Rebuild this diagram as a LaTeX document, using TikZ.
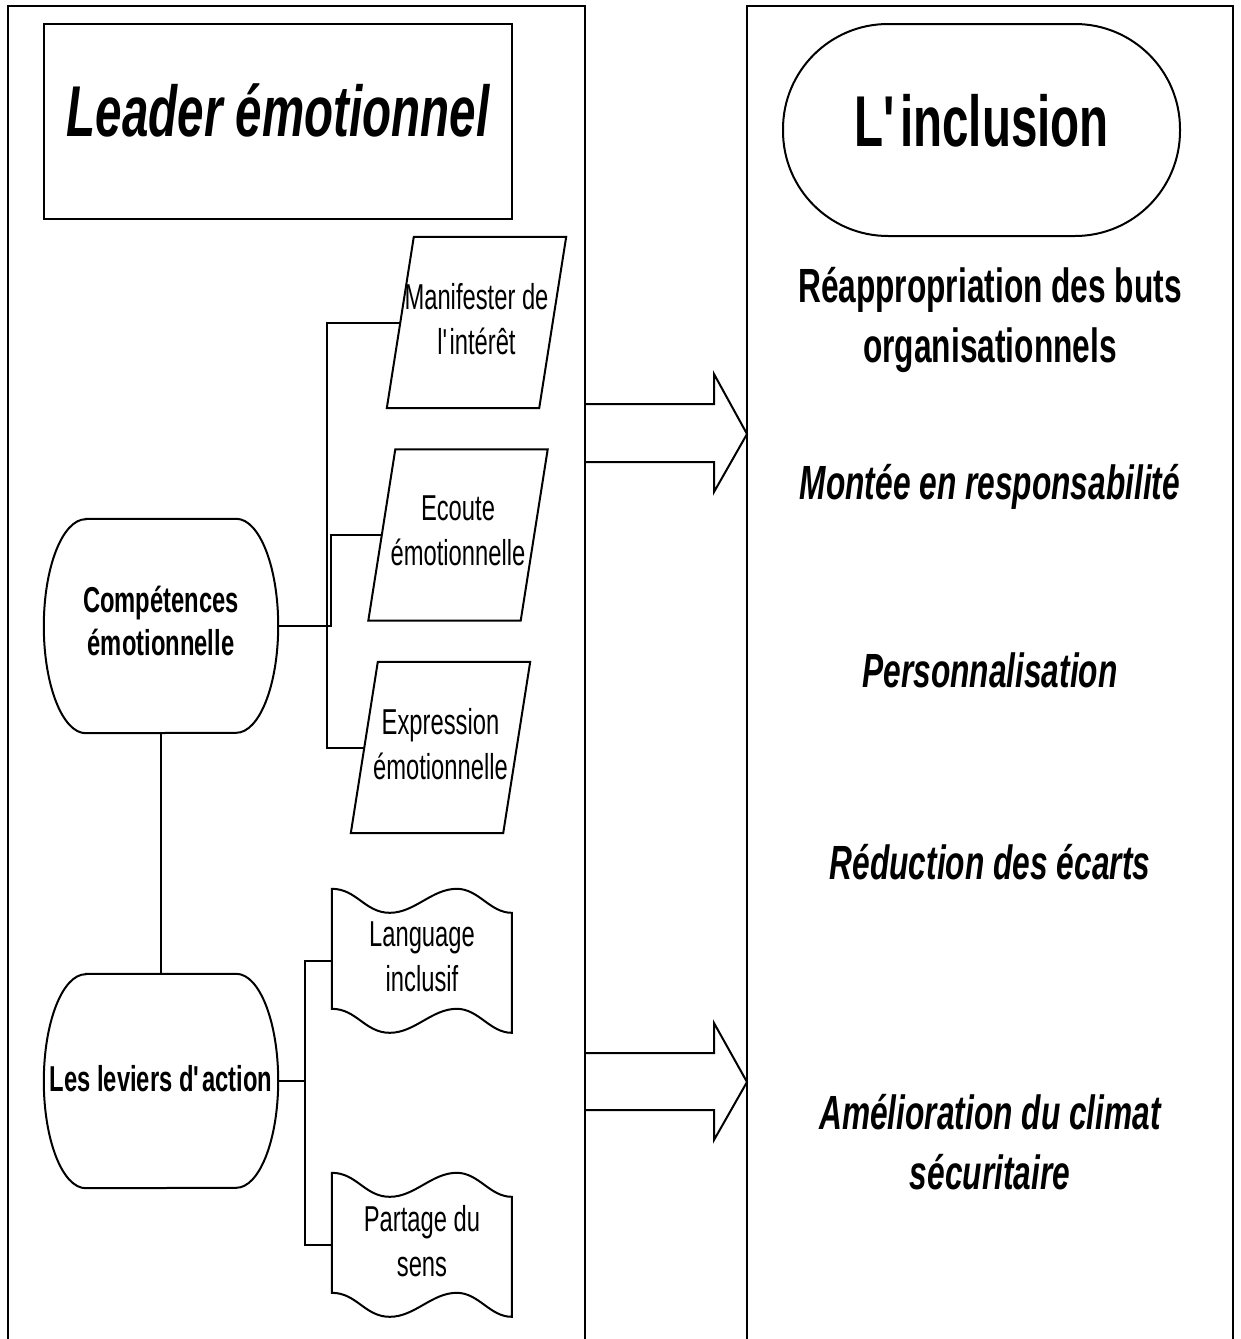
\documentclass[tikz,border=0pt]{standalone}
\usepackage{fontspec}
\setmainfont{Liberation Sans}[FakeStretch=0.66]
\newcommand{\apos}{\textquotesingle}

\begin{document}
\begin{tikzpicture}[
        x=1pt, y=-1pt,
        panel/.style={line width=2.6pt},
        outline/.style={draw, line width=2pt},
        link/.style={line width=2pt},
        para/.style={minimum width=152pt, minimum height=171pt, inner sep=0pt, text depth=8pt,
                     align=center, font=\fontsize{36}{45}\selectfont},
        term/.style={minimum width=234pt, minimum height=214pt, inner sep=0pt, align=center,
                     font=\bfseries\fontsize{36}{43}\selectfont},
        docu/.style={minimum width=180pt, minimum height=144pt, inner sep=0pt, text depth=8pt,
                     align=center, font=\fontsize{36}{45}\selectfont},
        result/.style={align=center, font=\bfseries\fontsize{48}{60}\selectfont},
        resultit/.style={align=center, font=\bfseries\itshape\fontsize{48}{60}\selectfont}]

    \useasboundingbox (0,0) rectangle (1240,1339);

    % --- cadres
    \draw[panel] (8,1350) -- (8,6) -- (585,6) -- (585,1350);
    \draw[panel] (747,1350) -- (747,6) -- (1233,6) -- (1233,1350);

    % --- titres
    \node[outline, minimum width=468pt, minimum height=195pt, text depth=22pt,
          font=\bfseries\itshape\fontsize{72}{86}\selectfont] (lead) at (278,121.5) {Leader émotionnel};
    \node[outline, rounded corners=105pt, minimum width=397pt, minimum height=212pt, text depth=20pt,
          font=\bfseries\fontsize{72}{86}\selectfont] (incl) at (981.5,130) {L\apos inclusion};

    % --- compétences
    \node[term, text depth=10pt] (comp) at (161,626) {Compétences\\émotionnelle};
    \draw[outline] ([xshift=42pt]comp.north west) -- ([xshift=-42pt]comp.north east)
        arc[start angle=90, end angle=-90, x radius=42pt, y radius=107pt]
        -- ([xshift=42pt]comp.south west)
        arc[start angle=270, end angle=90, x radius=42pt, y radius=107pt] -- cycle;

    \node[para] (mani) at (476.5,322.5) {Manifester de\\l\apos intérêt};
    \node[para] (ecou) at (458,535)     {Ecoute\\émotionnelle};
    \node[para] (expr) at (440.5,747.5) {Expression\\émotionnelle};
    \foreach \p in {mani, ecou, expr}
        \draw[outline] ([xshift=13.5pt]\p.north west) -- ([xshift=13.5pt]\p.north east)
            -- ([xshift=-13.5pt]\p.south east) -- ([xshift=-13.5pt]\p.south west) -- cycle;

    \draw[link] (comp.east) -- ++(49,0) |- (mani.west);
    \draw[link] (comp.east) -- ++(53,0) |- (ecou.west);
    \draw[link] (comp.east) -- ++(49,0) |- (expr.west);

    % --- leviers
    \node[term, text depth=6pt] (lev) at (161,1081) {Les leviers d\apos action};
    \draw[outline] ([xshift=42pt]lev.north west) -- ([xshift=-42pt]lev.north east)
        arc[start angle=90, end angle=-90, x radius=42pt, y radius=107pt]
        -- ([xshift=42pt]lev.south west)
        arc[start angle=270, end angle=90, x radius=42pt, y radius=107pt] -- cycle;
    \draw[link] (comp.south) -- (lev.north);

    \node[docu] (lang) at (422,961)  {Language\\inclusif};
    \node[docu] (part) at (422,1245) {Partage du\\sens};
    \foreach \d in {lang, part}
        \draw[outline] (\d.north west)
            .. controls +(25,0) and +(-25,0) .. ++(58,24)
            .. controls +(25,0) and +(-25,0) .. ++(67,-24)
            .. controls +(22,0) and +(-22,0) .. ++(55,24)
            -- ++(0,120)
            .. controls +(-22,0) and +(22,0) .. ++(-55,-24)
            .. controls +(-25,0) and +(25,0) .. ++(-67,24)
            .. controls +(-25,0) and +(25,0) .. ++(-58,-24) -- cycle;

    \draw[link] (lev.east) -- ++(27,0) |- (lang.west);
    \draw[link] (lev.east) -- ++(27,0) |- (part.west);

    % --- flèches vers l'inclusion
    \draw[outline] (585,404) -- (714,404) -- (714,374) -- (747,434) -- (714,492) -- (714,462) -- (585,462);
    \draw[outline] (585,1053) -- (714,1053) -- (714,1023) -- (747,1082) -- (714,1140) -- (714,1110) -- (585,1110);

    % --- effets
    \node[result]   (reap) at (990,320)  {Réappropriation des buts\\organisationnels};
    \node[resultit] (mont) at (990,487)  {Montée en responsabilité};
    \node[resultit] (pers) at (990,670)  {Personnalisation};
    \node[resultit] (redu) at (990,862)  {Réduction des écarts};
    \node[resultit] (amel) at (990,1142) {Amélioration du climat\\sécuritaire};

    \end{tikzpicture}
\end{document}
